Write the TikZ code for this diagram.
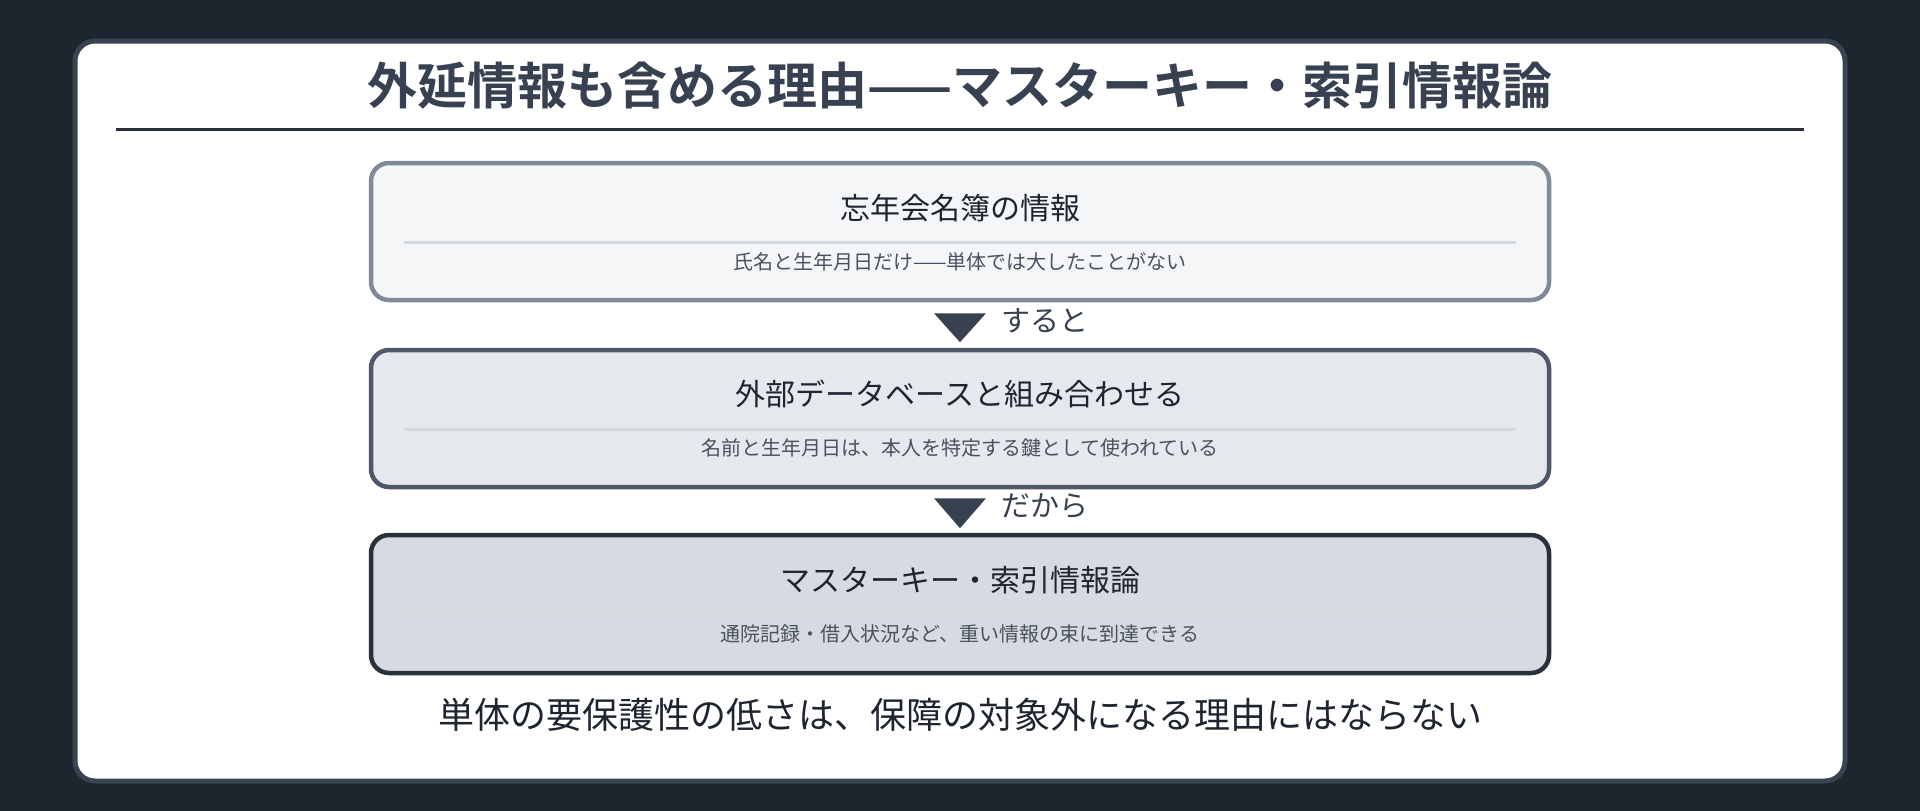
\documentclass[tikz,border=0pt]{standalone}
\usepackage{fontspec}
\setmainfont{Noto Sans CJK JP}[BoldFont={Noto Sans CJK JP Bold}]
\usetikzlibrary{calc}
\definecolor{bgdark}{HTML}{1E252F}
\definecolor{cardborder}{HTML}{3A4352}
\definecolor{titlecol}{HTML}{374151}
\definecolor{rulecol}{HTML}{2A313C}
\definecolor{bordA}{HTML}{818A98}
\definecolor{bordB}{HTML}{4F5868}
\definecolor{bordC}{HTML}{2A313C}
\definecolor{fillA}{HTML}{F4F6F8}
\definecolor{fillB}{HTML}{E5E8EC}
\definecolor{fillC}{HTML}{D6DAE1}
\definecolor{sepA}{HTML}{D5D8DC}
\definecolor{sepC}{HTML}{DADDE2}
\definecolor{maintext}{HTML}{1F2530}
\definecolor{subtext}{HTML}{4A5260}
\tikzset{
  stagebox/.style={rectangle, rounded corners=18pt, line width=4.5pt, minimum width=1178pt, minimum height=137pt, inner sep=0pt},
  boxtitle/.style={text=maintext, font=\fontsize{30}{36}\selectfont, inner sep=0pt},
  boxsub/.style={text=subtext, font=\fontsize{20}{24}\selectfont, inner sep=0pt},
  seprule/.style={line width=3pt},
  flowlabel/.style={text=titlecol, font=\fontsize{29}{34}\selectfont, inner sep=0pt, anchor=west},
  flowtri/.style={fill=titlecol, draw=none}
}
\begin{document}
\begin{tikzpicture}[x=1pt,y=-1pt]
\fill[bgdark] (0,0) rectangle (1920,811);
\useasboundingbox (0,0) rectangle (1920,811);
% card
\draw[fill=white, draw=cardborder, line width=5pt, rounded corners=20pt] (75,41) rectangle (1845,781);
% title
\node[text=titlecol, font=\bfseries\fontsize{50}{60}\selectfont, inner sep=0pt] (title) at (960,86) {外延情報も含める理由——マスターキー・索引情報論};
\draw[rulecol, line width=3pt] (116,129) -- (1804,129);
% boxes
\node[stagebox, draw=bordA, fill=fillA] (b1) at (960,231.5) {};
\node[stagebox, draw=bordB, fill=fillB] (b2) at (960,418.5) {};
\node[stagebox, draw=bordC, fill=fillC, minimum height=138pt] (b3) at (960,604) {};
% box 1 content
\node[boxtitle] (t1) at (960,208) {忘年会名簿の情報};
\draw[seprule, sepA] (404,242) -- (1516,242);
\node[boxsub] (s1) at (960,262) {氏名と生年月日だけ——単体では大したことがない};
% box 2 content
\node[boxtitle] (t2) at (960,394) {外部データベースと組み合わせる};
\draw[seprule, sepA] (404,429) -- (1516,429);
\node[boxsub] (s2) at (960,448) {名前と生年月日は、本人を特定する鍵として使われている};
% box 3 content
\node[boxtitle] (t3) at (960,580) {マスターキー・索引情報論};
\draw[seprule, sepC] (404,613) -- (1516,613);
\node[boxsub] (s3) at (960,634) {通院記録・借入状況など、重い情報の束に到達できる};
% flow arrows
\coordinate (a1) at ($(b1.south)+(0,11)$);
\fill[flowtri] ($(a1)+(-26,0)$) -- ($(a1)+(26,0)$) -- ($(a1)+(0,29)$) -- cycle;
\node[flowlabel] (l1) at (1001,321) {すると};
\coordinate (a2) at ($(b2.south)+(0,9)$);
\fill[flowtri] ($(a2)+(-26,0)$) -- ($(a2)+(26,0)$) -- ($(a2)+(0,30)$) -- cycle;
\node[flowlabel] (l2) at (1001,506) {だから};
% conclusion
\node[text=maintext, font=\fontsize{36}{42}\selectfont, inner sep=0pt] (concl) at (960,715) {単体の要保護性の低さは、保障の対象外になる理由にはならない};
\end{tikzpicture}
\end{document}
